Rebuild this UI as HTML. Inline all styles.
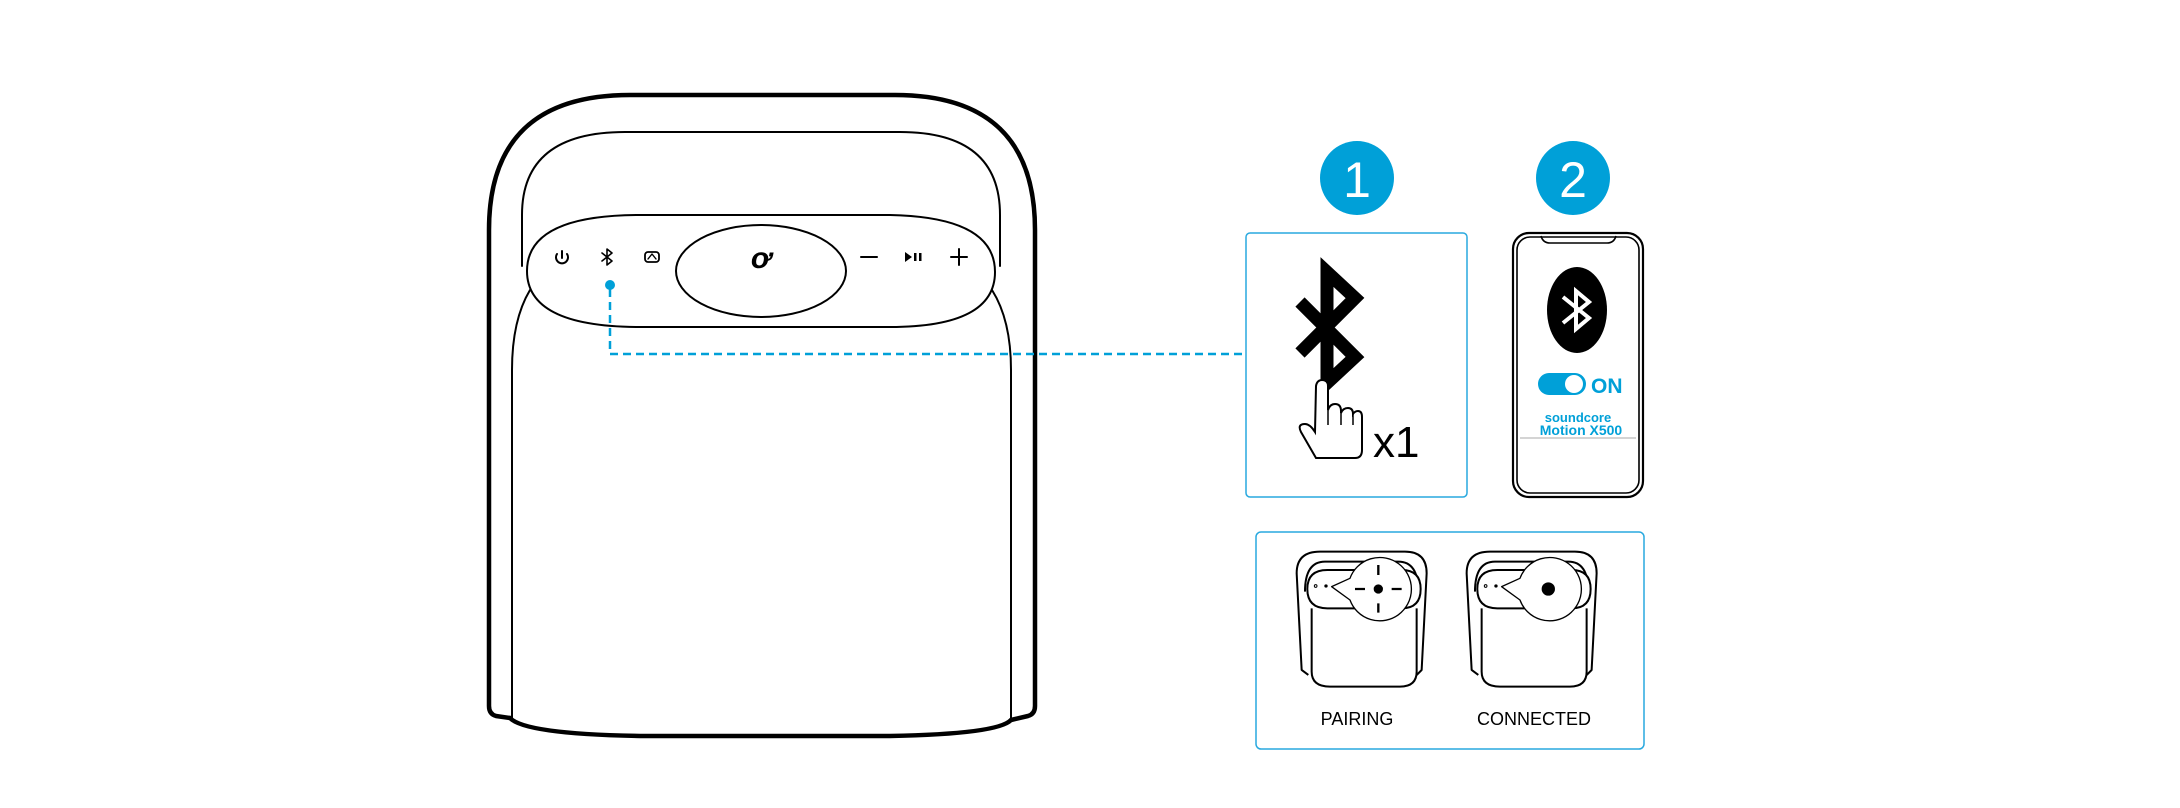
<!DOCTYPE html>
<html><head><meta charset="utf-8"><style>
html,body{margin:0;padding:0;background:#fff;}
svg{display:block;}
text{font-family:"Liberation Sans",sans-serif;}
</style></head><body>
<svg width="2180" height="808" viewBox="0 0 2180 808" xmlns="http://www.w3.org/2000/svg">
<rect width="2180" height="808" fill="#fff"/>
<!-- Big speaker -->
<g fill="none" stroke="#000" stroke-linejoin="round" stroke-linecap="round">
  <path d="M510,718 L496,716 Q489,714 489,706 L489,230 Q489,95 630,95 L895,95 Q1035,95 1035,230 L1035,706 Q1035,714 1028,716 L1011,720" stroke-width="4.5"/>
  <path d="M510,718 Q525,734 640,736 L890,736 Q998,734 1011,720" stroke-width="4.5"/>
  <path d="M522,266 L522,215 Q522,132 625,132 L900,132 Q1000,132 1000,215 L1000,266" stroke-width="2"/>
  <path d="M530,290 Q512,320 512,370 L512,718" stroke-width="2"/>
  <path d="M992,290 Q1011,320 1011,370 L1011,720" stroke-width="2"/>
  <path d="M527,271 Q527,215 640,215 L890,215 Q995,217 995,272 Q995,327 890,327 L640,327 Q527,327 527,271 Z" fill="#fff" stroke-width="2"/>
  <ellipse cx="761" cy="271" rx="85" ry="46" fill="#fff" stroke-width="2"/>
  <!-- icons -->
  <path d="M557,254 A6,6 0 1 0 567,254 M562,251 L562,258" stroke-width="2"/>
  <path d="M602,253 L612,261 L607,265 L607,249 L612,253 L602,261" stroke-width="1.6"/>
  <rect x="645" y="252" width="14" height="10" rx="3" stroke-width="1.8"/>
  <path d="M648,259 L652,254 L656,259" stroke-width="1.4"/>
  <path d="M861,257 L877,257" stroke-width="2"/>
  <path d="M951,257 L967,257 M959,249 L959,265" stroke-width="2"/>
</g>
<path d="M905,252 L912,257 L905,262 Z" fill="#000"/>
<rect x="914" y="253" width="2.5" height="8" fill="#000"/><rect x="919" y="253" width="2.5" height="8" fill="#000"/>
<text x="761" y="268" font-size="30" font-weight="bold" font-style="italic" text-anchor="middle" fill="#000">ơ</text>
<!-- dashed connector -->
<circle cx="610" cy="285" r="5" fill="#00a0d8"/>
<path d="M610,289 L610,354 L1247,354" fill="none" stroke="#00a0d8" stroke-width="2.5" stroke-dasharray="8,5"/>
<!-- numbers -->
<circle cx="1357" cy="178" r="37" fill="#00a0d8"/>
<text x="1357" y="197" font-size="50" text-anchor="middle" fill="#fff">1</text>
<circle cx="1573" cy="178" r="37" fill="#00a0d8"/>
<text x="1573" y="197" font-size="50" text-anchor="middle" fill="#fff">2</text>
<!-- Box 1 -->
<rect x="1246" y="233" width="221" height="264" rx="4" fill="none" stroke="#29a9df" stroke-width="1.5"/>
<path d="M1300,302 L1355,357 L1327,383 L1327,272 L1355,298 L1300,353" fill="none" stroke="#000" stroke-width="13" stroke-linejoin="miter"/>
<path d="M1316,458 L1301,432 Q1297,424 1305,424 Q1310,424 1315,432 L1316,386 Q1317,380 1322,380 Q1328,380 1328,386 L1328,410 Q1330,404 1335,404 Q1341,404 1341,411 L1341,413 Q1343,408 1348,408 Q1353,408 1353,414 Q1355,411 1358,411 Q1362,411 1362,417 L1362,450 Q1362,458 1355,458 Z" fill="#fff" stroke="#000" stroke-width="2"/>
<path d="M1328,410 L1328,425 M1341,413 L1341,425 M1353,414 L1353,425" stroke="#000" stroke-width="1.5"/>
<text x="1373" y="457" font-size="44" fill="#000">x1</text>
<!-- Phone -->
<rect x="1513" y="233" width="130" height="264" rx="16" fill="none" stroke="#000" stroke-width="2.2"/>
<rect x="1517" y="237" width="122" height="256" rx="13" fill="none" stroke="#000" stroke-width="1.6"/>
<path d="M1541,236 Q1543,243 1550,243 L1607,243 Q1614,243 1616,236" fill="none" stroke="#000" stroke-width="1.6"/>
<ellipse cx="1577" cy="310" rx="30" ry="43" fill="#000"/>
<path d="M1563,297 L1589,318 L1576,329 L1576,291 L1589,302 L1563,323" fill="none" stroke="#fff" stroke-width="4"/>
<rect x="1538" y="373" width="48" height="22" rx="11" fill="#00a0d8"/>
<circle cx="1574" cy="384" r="9" fill="#fff"/>
<text x="1591" y="393" font-size="21" font-weight="bold" fill="#00a0d8">ON</text>
<text x="1578" y="422" font-size="13" font-weight="bold" text-anchor="middle" fill="#00a0d8">soundcore</text>
<text x="1581" y="435" font-size="14" font-weight="bold" text-anchor="middle" fill="#00a0d8">Motion X500</text>
<line x1="1520" y1="438" x2="1636" y2="438" stroke="#bbb" stroke-width="1.2"/>
<!-- Box 2 -->
<rect x="1256" y="532" width="388" height="217" rx="5" fill="none" stroke="#29a9df" stroke-width="1.5"/>
<defs>
<g id="mini" fill="none" stroke="#000" stroke-width="6" stroke-linejoin="round">
  <path d="M175,465 L155,450 L140,160 Q140,95 210,95 L465,95 Q530,95 530,160 L515,450 L500,465"/>
  <path d="M165,215 Q165,125 225,125 L445,125 Q505,125 505,215"/>
  <path d="M185,265 L185,455 Q185,500 240,500 L450,500 Q500,500 500,455 L500,265"/>
  <path d="M232,150 L455,150 Q512,150 512,207 Q512,265 455,265 L232,265 Q172,265 172,207 Q172,150 232,150 Z" fill="#fff"/>
  <path d="M300,175 A95,95 0 1 1 300,240 L245,200 Z" fill="#fff" stroke-width="4"/>
  <circle cx="197" cy="198" r="4" stroke-width="3"/>
</g>
</defs>
<g transform="translate(1250,520) scale(0.3333)">
  <use href="#mini"/>
  <circle cx="228" cy="198" r="5" fill="#000"/>
  <circle cx="385" cy="207" r="14" fill="#000"/>
  <path d="M385,135 L385,165 M385,250 L385,278 M315,207 L345,207 M425,207 L455,207" stroke="#000" stroke-width="7"/>
  <g transform="translate(510,0)">
    <use href="#mini"/>
    <circle cx="228" cy="198" r="5" fill="#000"/>
    <circle cx="385" cy="207" r="20" fill="#000"/>
  </g>
</g>
<text x="1357" y="725" font-size="18" text-anchor="middle" fill="#000">PAIRING</text>
<text x="1534" y="725" font-size="18" text-anchor="middle" fill="#000">CONNECTED</text>
</svg>
</body></html>
